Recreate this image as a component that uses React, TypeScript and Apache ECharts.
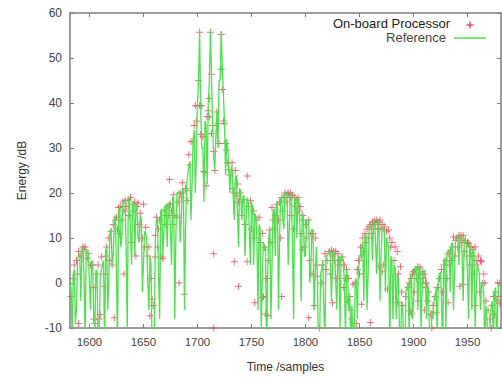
import React, { useEffect, useRef } from "react";
import * as echarts from "echarts";

// Reference signal at even samples 1582, 1584, ... 1980
const refEvenStart = 1582;
const refEvenValues = [
  0, -12, 3, -6, 6,
  -4, 8, -12, 7, 0,
  5, -8, 3, -14, 1,
  4, -14, 8, 2, 12,
  6, 15, -14, 17, 10,
  18, 8, 19, 12, 18,
  6, 17, 9, 14, 4,
  11, 0, 6, -15, -14,
  14, 2, 16, 6, 17,
  8, 18, 4, 19, 10,
  20, 9, 21, -6, 22,
  26, 14, 32, 20, 40,
  56, 30, 18, 35, 40,
  56, 35, 25, 38, 45,
  56, 42, 24, 30, 20,
  26, 14, 24, 8, 20,
  19, 6, 19, 12, 18,
  4, 15, -6, 12, 0,
  8, -14, 10, -8, 16,
  6, 18, 10, 19, 12,
  20, 4, 20, 8, 19,
  10, 18, -4, 15, 6,
  14, 0, 12, -6, 8,
  -15, 2, 5, -12, 6,
  7, -4, 7, 0, 6,
  -10, 6, 0, 3, -6,
  -15, -14, 0, -8, 5,
  8, -4, 11, 2, 13,
  5, 14, 2, 13, 6,
  12, -2, 9, -15, 5,
  4, -8, 1, -15, -6,
  -15, -1, -12, 2, -4,
  3.5, -6, 3.6, -2, 3,
  -8, -2, -15, -8, -3,
  -12, 2, -4, 5, -10,
  7, -2, 9, 2, 10.5,
  4, 10.5, -4, 9.5, 2,
  9, -6, 7, -2, 3,
  -6, 0, -15, -8, -15,
  -5, -12, -1, -4, 0,
];

// Reference signal at odd samples 1583, 1585, ... 1979
const refOddStart = 1583;
const refOddValues = [
  -1, 2, -9, 5.5, 6.5,
  7.5, 1, 7.5, 6.5, -6,
  4.5, -10, 2, -12, 3,
  5, 7, -6, 11, 4,
  14, 3, 16, 8, 18,
  18.5, -12, 19, 4, 18,
  17.5, 10, 15, -2, 11.5,
  10, -6, 4, -15, 10,
  14.5, -8, 16.5, 12, 17.5,
  17.5, 12, 19, -8, 20,
  20.5, 14, 21, 12, 24,
  27, 22, 34, 28, 45,
  38, 30, 36, 22, 45,
  46, 28, 32, 30, 45,
  48, 36, 32, 26, 25,
  20, 23, 16, 21, 14,
  19.5, 14, 18.5, 4, 17,
  15.5, 10, 13, -10, 9,
  7, 2, 12, 4, 16.5,
  17.5, -6, 19, 14, 20,
  20, 12, 20, -8, 19,
  19, 12, 15.5, 6, 14,
  14, 4, 11.5, 2, 2,
  -15, 3, -6, 6, 6.5,
  7, 3, 7, -6, 6,
  6, 5, -12, 1.5, -3,
  -5, -15, 1, 3, 6.5,
  9, 10.5, -6, 12.5, 13,
  13.5, 8, 14, -4, 12.5,
  11.5, 10, 8, 6, -8,
  3.5, 2, -10, -4, -15,
  -2, 0, 1.5, -8, 3,
  3.5, 3.6, -10, 2.5, 1.5,
  0, -15, -6, -4, -1,
  1, 2.5, -15, 5.5, 6.5,
  7.5, 8.5, -6, 10.2, 10.5,
  10.5, 6, 10, 9, -8,
  8, 7.5, -10, 4, 2,
  0, -2, -5, -12, -7,
  -4, -2, -15, 0,
];

// On-board processor estimates: [sample, energy dB]
const procPoints: [number, number][] = [
  [1583, -3], [1585, 1], [1586, 4], [1588, 5], [1589, 2], [1590, 7], [1590, -9], [1592, 6], [1594, 8], [1595, 7.5],
  [1596, 8], [1598, 5.5], [1599, 6.5], [1601, 4], [1603, 4], [1604, -1], [1604, -8], [1605, -9], [1607, 2], [1608, 4],
  [1609, -8], [1610, -7], [1611, 5.8],
  [1613, 2], [1614, -0.7], [1615, 6], [1616, 8], [1618, 10], [1619, 5], [1620, 11.5], [1621, 4], [1622, 13], [1623, -7.7],
  [1624, 14], [1625, 14.6], [1626, 12], [1627, 16.8], [1628, 11], [1629, 17], [1630, 14], [1631, 18], [1632, 16], [1632, 2],
  [1633, 18.3], [1634, 17], [1636, 18.5], [1637, 15], [1638, 19], [1639, 9], [1640, 17.5], [1641, 16], [1642, 18], [1643, 6],
  [1644, 17], [1645, 17.8], [1646, 13], [1647, 15.5], [1649, 10], [1650, 17.5], [1651, 8], [1652, 12.4], [1654, 6], [1655, 8],
  [1656, -7.3], [1657, 1], [1658, -3.6], [1659, -5],
  [1661, 5.8], [1661, 10.6], [1662, 14.6], [1663, 8], [1664, 12], [1665, 14], [1667, 5.8], [1668, 5.4], [1669, 16], [1670, 13],
  [1671, 15], [1672, 17], [1673, 15], [1674, 23], [1675, 17.5], [1676, 16], [1677, 13], [1678, 19.6], [1679, 15], [1681, 14.6],
  [1682, 18], [1683, 0], [1684, 20], [1685, 19], [1686, 22.3], [1687, 20], [1688, -2.5], [1689, 21], [1690, 20.5], [1691, 18.3],
  [1692, 28.5], [1693, 26.3], [1694, 31.4], [1696, 31.5], [1697, 35], [1698, 39.4], [1699, 36], [1700, 39.4], [1701, 45],
  [1702, 55.7], [1702, 39.4], [1703, 33], [1704, 39.4], [1705, 32.5], [1706, 24.8], [1707, 24.5], [1708, 21.6], [1709, 37],
  [1710, 38.3], [1711, 36.9], [1711, 41], [1712, 55.7], [1713, 46.4], [1713, 33.2], [1714, 35], [1715, 29.2], [1715, 6.5],
  [1715, -10], [1716, 25], [1718, 38], [1719, 35.4], [1720, 31],
  [1722, 55.2], [1722, 47.5], [1723, 43], [1724, 36], [1725, 35.4], [1726, 31], [1727, 29.5], [1728, 26.7], [1729, 25.2],
  [1730, 24], [1732, 26.7], [1733, 21], [1734, 20], [1734, 4.7], [1735, 25], [1736, 19.4], [1737, 22], [1738, 18], [1738, -0.7],
  [1740, 20], [1741, 15], [1743, 18.5], [1744, 13], [1746, 23.8], [1746, 4.7], [1747, 17], [1749, 18.3], [1750, 12], [1752, 16],
  [1753, 10], [1753, -4.4], [1755, 14], [1757, 14.6], [1758, 9], [1760, 11], [1760, -3.3], [1761, -3], [1762, 8], [1763, 7.4],
  [1763, -6.9], [1764, 1], [1765, -7.3],
  [1766, 5], [1767, 11.8], [1768, 9], [1769, 16.8], [1770, 14], [1771, 12], [1772, 15], [1774, 17.5], [1775, 14], [1776, 18],
  [1777, 10], [1778, 19], [1778, -3], [1779, 16], [1780, 19], [1781, 20], [1782, 18], [1783, 19.7], [1784, 20], [1785, 19],
  [1786, 20], [1787, 15], [1788, 19.5], [1789, 12], [1790, 19], [1791, 17], [1792, 18.5], [1793, 19], [1794, 16], [1795, 17],
  [1796, 11], [1797, 15], [1797, 7.4], [1798, 14], [1799, 8], [1800, 13], [1801, 10], [1803, 14], [1803, -7.7], [1804, 5],
  [1805, 11], [1806, 2], [1807, 11], [1808, -5], [1809, 10], [1810, 4], [1811, 1.5],
  [1813, -10], [1815, 0], [1816, 4], [1818, 6.5], [1819, 3], [1820, 5], [1822, 7], [1823, 2], [1824, 7.3], [1825, 6],
  [1825, -4.4], [1826, 7], [1827, 5], [1828, 7], [1829, 1], [1830, 6.5], [1831, 4], [1832, 5], [1834, 5.8], [1835, -1],
  [1836, 4], [1837, 1], [1838, 3], [1839, -4], [1840, 1], [1841, -3], [1842, -6], [1843, -8], [1844, -0.3], [1846, 0],
  [1847, -9],
  [1848, 3], [1849, 5], [1850, 2], [1851, 8], [1852, 6], [1852, -4.7], [1853, 10], [1854, 7], [1855, 11], [1856, 9],
  [1857, 12], [1858, 10], [1859, 12.5], [1860, 13], [1860, -8.8], [1861, 11], [1862, 13.5], [1863, 12], [1864, 13.8],
  [1865, 13], [1866, 14], [1867, 12], [1868, 13.5], [1868, 3.6], [1869, 14], [1870, 12], [1871, 2.5], [1871, 13],
  [1872, 4], [1873, 12.5], [1875, 11.5], [1876, -1.4], [1877, 11.8], [1878, 10], [1879, 8], [1880, 9], [1882, 5], [1883, 8],
  [1885, 7], [1885, -4.4], [1886, 2], [1888, 3.6], [1889, -2], [1890, -5],
  [1893, -3], [1895, -1], [1896, 0], [1897, -6.2], [1898, 1], [1898, -6.9], [1899, 2], [1900, 2.5], [1901, -2], [1902, 3],
  [1903, 1], [1904, 3.6], [1904, -4], [1905, 2], [1906, 3.5], [1907, 0], [1908, 2.5], [1909, 1], [1910, 2], [1910, -6],
  [1911, -1], [1912, 0], [1913, -4], [1914, -2], [1916, -7], [1917, -10],
  [1918, -5], [1920, -3], [1921, -6.6], [1922, -1], [1924, 1], [1926, 3], [1927, -2], [1928, 4], [1930, 5], [1931, 1],
  [1932, 6.5], [1932, -4.4], [1933, 4], [1934, 7], [1935, 5], [1936, 8], [1937, 10.2], [1938, 6], [1939, 9.5], [1940, 10],
  [1941, 8], [1942, 10.5], [1943, 10], [1943, -0.7], [1944, 10.6], [1945, 9], [1946, 10.5], [1946, -0.3], [1947, 7],
  [1948, 9.5], [1949, 6], [1950, 9], [1951, 8.7], [1952, 4], [1953, 8], [1954, 6], [1955, 7.5], [1956, 2], [1957, 8],
  [1957, -5], [1958, 5], [1959, 4], [1960, 6], [1961, -2], [1962, 5], [1963, 4.7], [1964, 0], [1965, 2], [1966, 0],
  [1967, -4], [1969, -6], [1971, -8], [1972, -10], [1973, -5], [1974, -3], [1975, -7], [1976, -2], [1977, -4], [1978, 0],
  [1979, -3], [1980, 0], [1980, -4.5],
];

const xTickValues = [1600, 1650, 1700, 1750, 1800, 1850, 1900, 1950];
const xMin = 1582;
const xMax = 1981;
const yMin = -10;
const yMax = 60;
const yStep = 10;

const legendProc = "On-board Processor";
const legendRef = "Reference";
const xName = "Time /samples";
const yName = "Energy /dB";

const RED = "#e4475a";
const GREEN = "#4ee04e";
const AXIS = "#7c7c7c";
const FONT = "'Liberation Sans', Arial, Helvetica, sans-serif";
const PLUS = "path://M4.3,0H5.7V4.3H10V5.7H5.7V10H4.3V5.7H0V4.3H4.3Z";

export default function App() {
  const ref = useRef<HTMLDivElement>(null);

  useEffect(() => {
    if (!ref.current) return;
    const chart = echarts.init(ref.current, undefined, { renderer: "svg" });
    const refData: [number, number][] = [];
    refEvenValues.forEach((v, i) => refData.push([refEvenStart + 2 * i, v]));
    refOddValues.forEach((v, i) => refData.push([refOddStart + 2 * i, v]));
    refData.sort((a, b) => a[0] - b[0]);

    const axisLine = { show: true, onZero: false, lineStyle: { color: AXIS, width: 1.5 } };
    const tick = { show: true, inside: true, length: 4, lineStyle: { color: AXIS, width: 1 } };

    chart.setOption({
      animation: false,
      backgroundColor: "#ffffff",
      grid: { left: 70, right: 1, top: 13, bottom: 45, containLabel: false },
      xAxis: [
        {
          type: "value",
          position: "bottom",
          min: xMin,
          max: xMax,
          axisLine,
          axisTick: { ...tick, customValues: xTickValues },
          axisLabel: {
            customValues: xTickValues,
            formatter: (v: number) => String(v),
            color: "#444",
            fontFamily: FONT,
            fontSize: 11.5,
            margin: 8,
          },
          splitLine: { show: false },
          name: xName,
          nameLocation: "middle",
          nameGap: 33,
          nameTextStyle: { color: "#333", fontFamily: FONT, fontSize: 12 },
        },
        {
          type: "value",
          position: "top",
          min: xMin,
          max: xMax,
          axisLine,
          axisTick: { ...tick, customValues: xTickValues },
          axisLabel: { show: false },
          splitLine: { show: false },
        },
      ],
      yAxis: [
        {
          type: "value",
          position: "left",
          min: yMin,
          max: yMax,
          interval: yStep,
          axisLine,
          axisTick: tick,
          axisLabel: { color: "#444", fontFamily: FONT, fontSize: 12, margin: 8 },
          splitLine: { show: false },
          name: yName,
          nameLocation: "middle",
          nameGap: 42,
          nameRotate: 90,
          nameTextStyle: { color: "#333", fontFamily: FONT, fontSize: 12 },
        },
        {
          type: "value",
          position: "right",
          min: yMin,
          max: yMax,
          interval: yStep,
          axisLine,
          axisTick: tick,
          axisLabel: { show: false },
          splitLine: { show: false },
        },
      ],
      series: [
        {
          name: legendProc,
          type: "scatter",
          data: procPoints,
          symbol: PLUS,
          symbolSize: 7,
          itemStyle: { color: RED },
          z: 2,
          clip: true,
        },
        {
          name: legendRef,
          type: "line",
          data: refData,
          symbol: "none",
          showSymbol: false,
          lineStyle: { color: GREEN, width: 1.3 },
          z: 3,
          clip: true,
        },
      ],
      graphic: [
        {
          type: "text",
          right: 52,
          top: 17,
          style: { text: legendProc, fill: "#222", font: `13px ${FONT}` },
        },
        {
          type: "text",
          right: 56,
          top: 31,
          style: { text: legendRef, fill: "#444", font: `13px ${FONT}` },
        },
        { type: "rect", shape: { x: 466.5, y: 24.3, width: 7, height: 1.4 }, style: { fill: RED } },
        { type: "rect", shape: { x: 469.3, y: 21.5, width: 1.4, height: 7 }, style: { fill: RED } },
        { type: "line", shape: { x1: 454, y1: 38, x2: 486, y2: 38 }, style: { stroke: GREEN, lineWidth: 1.5 } },
      ],
    });
    return () => chart.dispose();
  }, []);

  return (
    <div
      ref={ref}
      style={{ position: "absolute", left: 0, top: 0, width: 502, height: 378, background: "#fff" }}
    />
  );
}
